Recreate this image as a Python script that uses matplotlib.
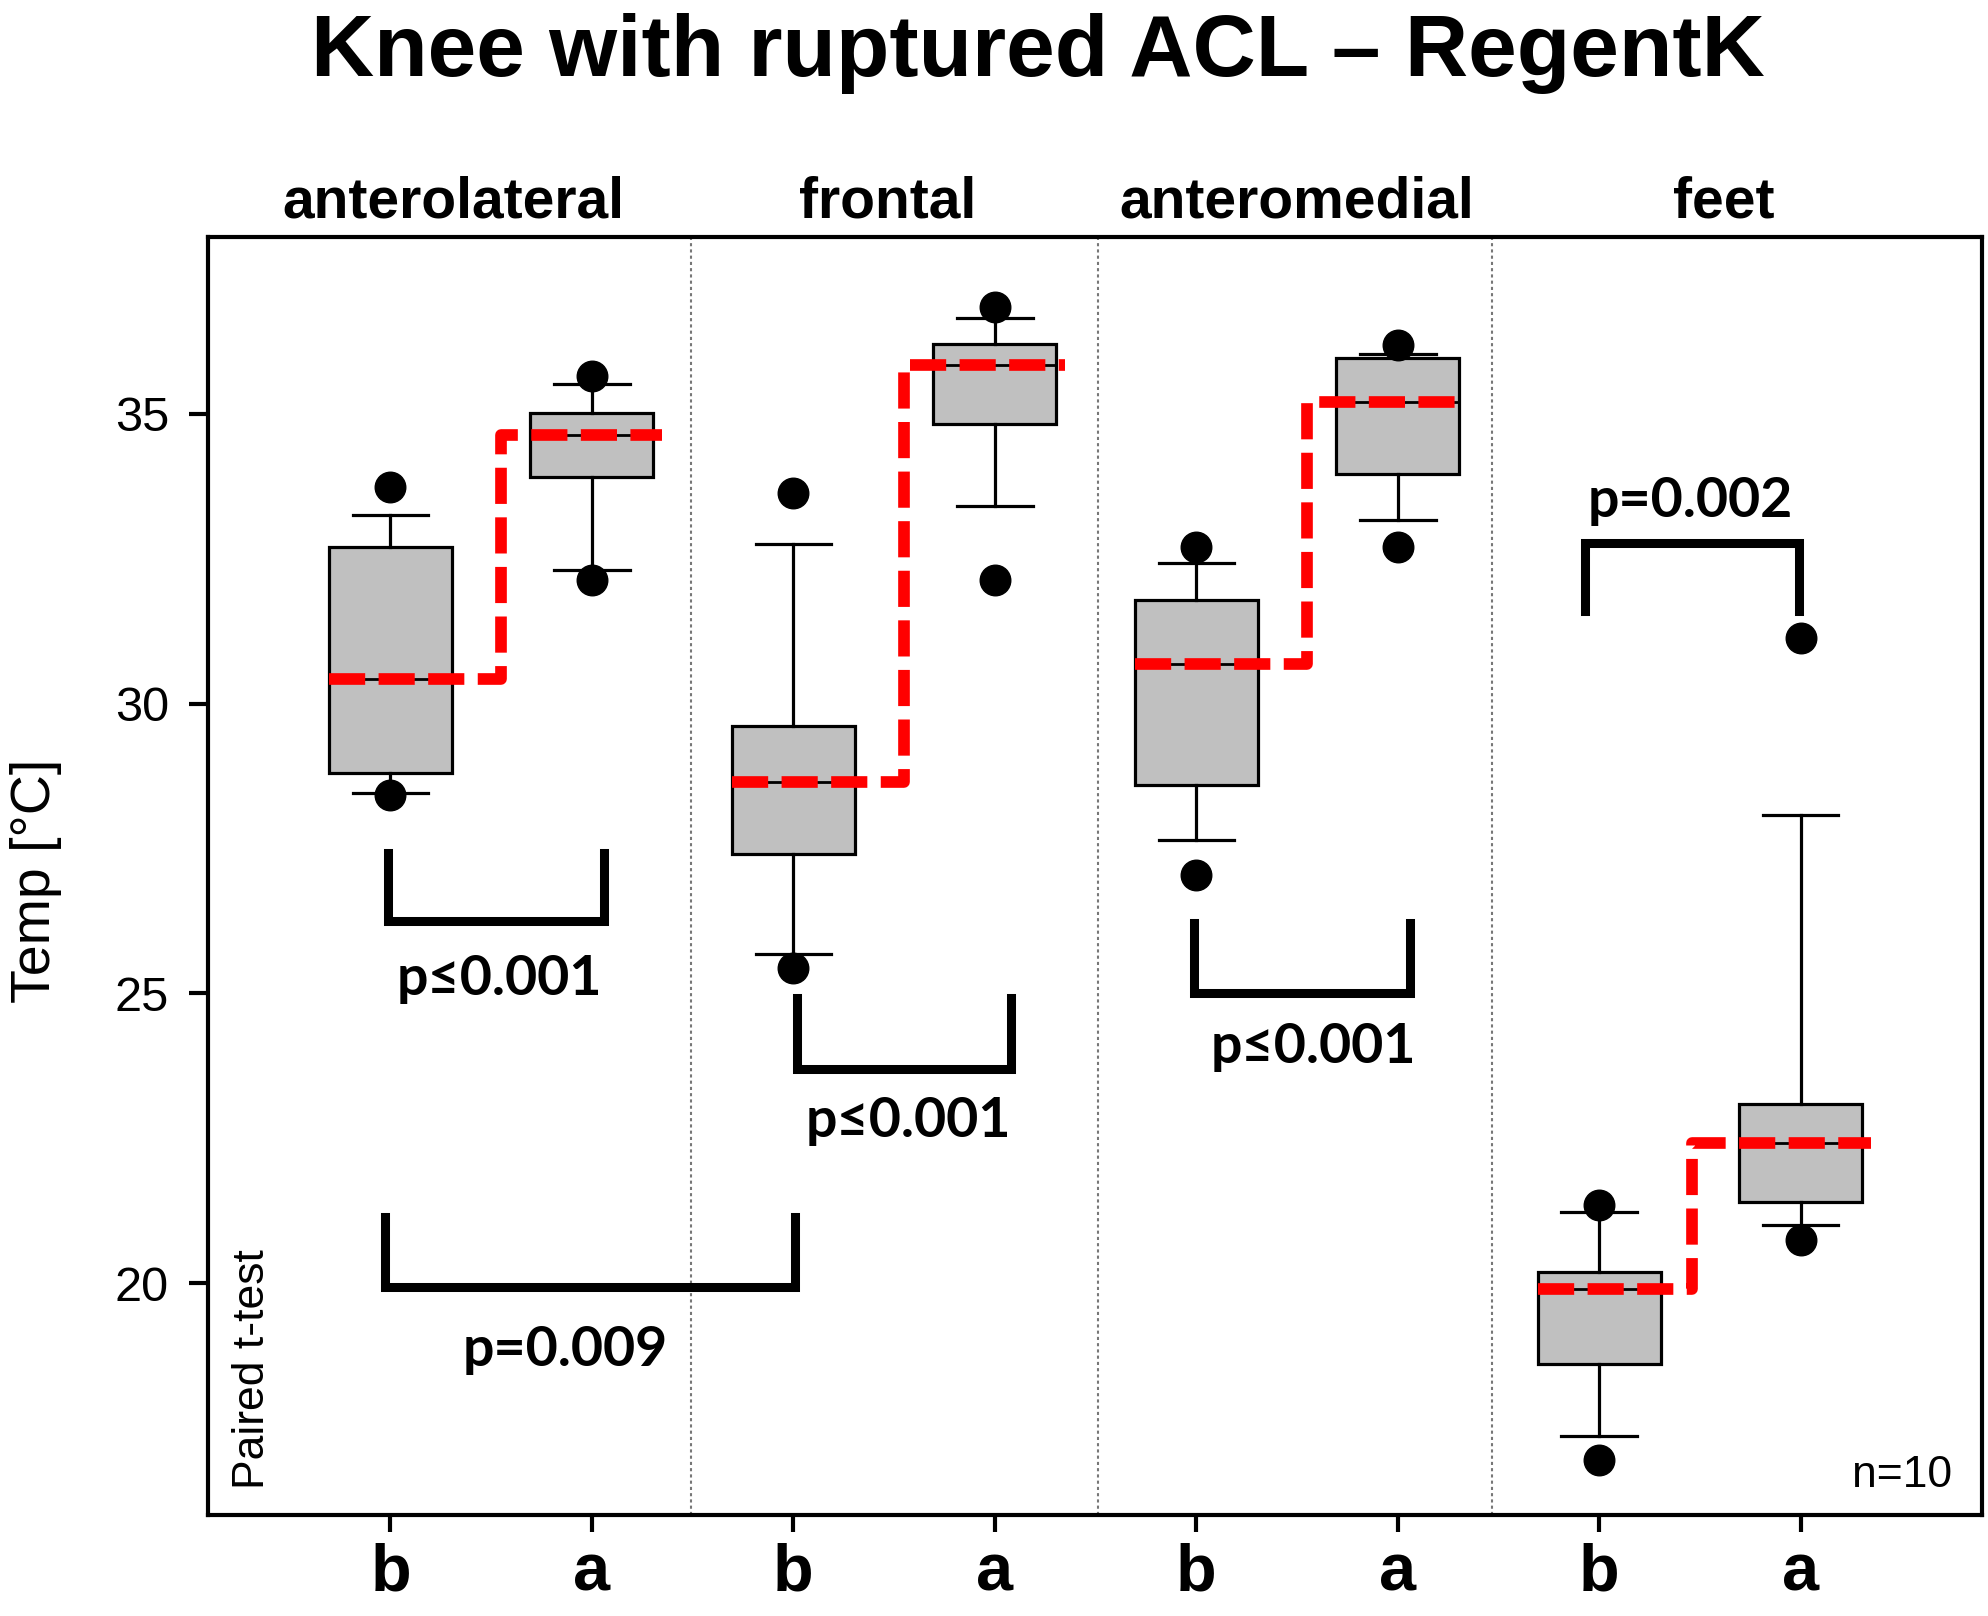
import matplotlib
matplotlib.use("Agg")
import matplotlib.pyplot as plt
import matplotlib.transforms as mtransforms

# box statistics (b = before, a = after), order: b,a per region
regions = ["anterolateral", "frontal", "anteromedial", "feet"]
conditions = ["b", "a", "b", "a", "b", "a", "b", "a"]
positions = [1, 2, 3, 4, 5, 6, 7, 8]

q1 = [28.80, 33.91, 27.40, 34.82, 28.60, 33.97, 18.60, 21.40]
median = [30.42, 34.63, 28.65, 35.85, 30.68, 35.21, 19.90, 22.42]
q3 = [32.70, 35.01, 29.61, 36.20, 31.78, 35.96, 20.20, 23.10]
whisker_lo = [28.46, 32.31, 25.68, 33.41, 27.65, 33.16, 17.36, 21.01]
whisker_hi = [33.26, 35.52, 32.76, 36.66, 32.43, 36.03, 21.22, 28.07]
outlier_lo = [28.42, 32.14, 25.44, 32.13, 27.04, 32.70, 16.95, 20.74]
outlier_hi = [33.74, 35.65, 33.63, 36.84, 32.71, 36.18, 21.35, 31.13]

# p-value brackets: (x_left, x_right, y_end, y_bar, label, label_x, label_y)
brackets = [
    (0.99, 2.06, 27.43, 26.25, "p\u22640.001", 1.54, 25.25),
    (3.02, 4.08, 24.92, 23.69, "p\u22640.001", 3.57, 22.80),
    (4.99, 6.06, 26.21, 25.01, "p\u22640.001", 5.58, 24.07),
    (6.93, 7.99, 31.59, 32.77, "p=0.002", 7.45, 33.50),
    (0.975, 3.01, 21.14, 19.93, "p=0.009", 1.87, 18.84),
]

plt.rcParams['font.family'] = ['Liberation Sans', 'DejaVu Sans']

fig = plt.figure(figsize=(19.88, 16.16), dpi=100)
ax = fig.add_axes([0.1046, 0.0625, 0.8924, 0.7908])

stats = []
for i in range(len(positions)):
    stats.append({
        "med": median[i], "q1": q1[i], "q3": q3[i],
        "whislo": whisker_lo[i], "whishi": whisker_hi[i],
        "fliers": [outlier_lo[i], outlier_hi[i]],
    })

box_w = 0.61
ax.bxp(stats, positions=positions, widths=box_w, capwidths=0.375,
       patch_artist=True, showfliers=True,
       boxprops=dict(facecolor="#c0c0c0", edgecolor="black", linewidth=2.3),
       whiskerprops=dict(color="black", linewidth=2.3),
       capprops=dict(color="black", linewidth=2.3),
       medianprops=dict(color="black", linewidth=2),
       flierprops=dict(marker="o", markerfacecolor="black", markeredgecolor="black",
                       markersize=22, zorder=4))

# red dashed step connecting the medians of each pair
step_off = [0.55, 0.55, 0.55, 0.46]
for g in range(4):
    ib, ia = 2 * g, 2 * g + 1
    xb, xa = positions[ib], positions[ia]
    xs = [xb - box_w / 2, xb + step_off[g], xb + step_off[g], xa + 0.35]
    ys = [median[ib], median[ib], median[ia], median[ia]]
    line, = ax.plot(xs, ys, color="#ff0000", linewidth=8.4, zorder=3,
                    solid_joinstyle="miter")
    line.set_dashes([3.1, 1.15])

# dotted separators between regions
for xsep in [2.49, 4.51, 6.47]:
    ax.axvline(xsep, color="#777777", linestyle=(0, (1.5, 1.5)), linewidth=1.5, zorder=1)

# significance brackets
for xl, xr, yend, ybar, lab, lx, ly in brackets:
    ax.plot([xl, xl, xr, xr], [yend, ybar, ybar, yend], color="black",
            linewidth=6.5, solid_joinstyle="miter", zorder=3)
    ax.text(lx, ly, lab, ha="center", va="center", fontsize=40,
            fontweight="bold", family=["Lato", "DejaVu Sans"])

ax.set_xlim(0.094, 8.9)
ax.set_ylim(16.0, 38.05)
ax.set_yticks([20, 25, 30, 35])
ax.set_xticks(positions)
ax.set_xticklabels(conditions, fontsize=48, fontweight="bold")
ax.tick_params(axis="y", labelsize=35, length=14, width=3, pad=14)
ax.tick_params(axis="x", length=12, width=3, pad=8)
for s in ax.spines.values():
    s.set_linewidth(3)

# region labels above the frame
trans = mtransforms.blended_transform_factory(ax.transData, ax.transAxes)
region_x = [1.31, 3.47, 5.50, 7.62]
for name, xr in zip(regions, region_x):
    ax.text(xr, 1.027, name, transform=trans, ha="center", va="center",
            fontsize=41, fontweight="bold")

ax.text(0.025, 0.02, "Paired t-test", transform=ax.transAxes, rotation=90,
        ha="center", va="bottom", fontsize=32)
ax.text(0.983, 0.022, "n=10", transform=ax.transAxes, ha="right",
        va="baseline", fontsize=32)

fig.text(0.018, 0.455, "Temp [\u00b0C]", rotation=90, ha="center", va="center",
         fontsize=40)
fig.text(0.522, 0.967, "Knee with ruptured ACL \u2013 RegentK", ha="center",
         va="center", fontsize=63, fontweight="bold")

fig.savefig("out.png", dpi=100)
